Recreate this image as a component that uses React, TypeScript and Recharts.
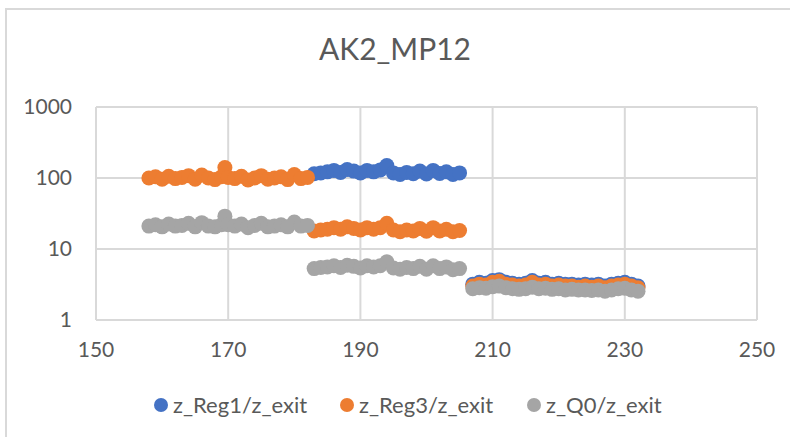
import { CartesianGrid, Scatter, ScatterChart, XAxis, YAxis } from 'recharts'

const xA = [158, 159, 160, 161, 162, 163, 164, 165, 166, 167, 168, 169, 169.5, 170, 171, 172, 173, 174, 175, 176, 177, 178, 179, 180, 181, 182]
const reg3A = [100, 104, 96, 106, 98, 102, 108, 96, 110, 100, 95, 104, 140, 102, 98, 106, 94, 100, 108, 96, 100, 104, 95, 112, 98, 102]
const q0A = [21, 22, 20.5, 22.5, 21, 21.5, 23, 20.5, 23.5, 21, 20.5, 22, 29, 22, 21, 22.5, 20, 21.5, 23, 20.5, 21, 22, 20.5, 24, 21, 21.5]

const xB = [183, 184, 185, 186, 187, 188, 189, 190, 191, 192, 193, 194, 195, 196, 197, 198, 199, 200, 201, 202, 203, 204, 205]
const reg1B = [115, 118, 122, 128, 120, 132, 125, 118, 128, 122, 130, 150, 118, 112, 120, 115, 125, 114, 128, 116, 122, 112, 118]
const reg3B = [18, 18.5, 19, 20, 19, 20.5, 19.5, 18.5, 20, 19, 20, 23, 18.5, 17.5, 18.5, 18, 19.5, 17.8, 20, 18, 19, 17.5, 18.2]
const q0B = [5.3, 5.5, 5.6, 5.8, 5.5, 5.9, 5.7, 5.4, 5.8, 5.6, 5.8, 6.6, 5.4, 5.2, 5.5, 5.3, 5.7, 5.2, 5.8, 5.3, 5.6, 5.1, 5.3]

const xC = [207, 208, 209, 210, 211, 212, 213, 214, 215, 216, 217, 218, 219, 220, 221, 222, 223, 224, 225, 226, 227, 228, 229, 230, 231, 232]
const reg1C = [3.2, 3.4, 3.3, 3.6, 3.7, 3.4, 3.3, 3.2, 3.3, 3.6, 3.3, 3.4, 3.2, 3.3, 3.2, 3.2, 3.1, 3.2, 3.1, 3.2, 3.0, 3.2, 3.3, 3.4, 3.2, 3.0]
const reg3C = [3.0, 3.2, 3.1, 3.4, 3.5, 3.2, 3.1, 3.0, 3.1, 3.4, 3.1, 3.2, 3.0, 3.1, 3.0, 3.0, 2.9, 3.0, 2.9, 3.0, 2.85, 3.0, 3.1, 3.2, 3.0, 2.85]
const q0C = [2.75, 2.85, 2.8, 2.95, 3.0, 2.85, 2.75, 2.7, 2.75, 2.9, 2.75, 2.8, 2.7, 2.75, 2.65, 2.7, 2.65, 2.65, 2.6, 2.65, 2.55, 2.65, 2.75, 2.8, 2.65, 2.55]

const xTicks = [150, 170, 190, 210, 230, 250]
const yTicks = [1, 10, 100, 1000]

const toPoints = (xs: number[], ys: number[]) => xs.map((x, i) => ({ x, y: ys[i] }))

const reg1 = [...toPoints(xB, reg1B), ...toPoints(xC, reg1C)]
const reg3 = [...toPoints(xA, reg3A), ...toPoints(xB, reg3B), ...toPoints(xC, reg3C)]
const q0 = [...toPoints(xA, q0A), ...toPoints(xB, q0B), ...toPoints(xC, q0C)]

const series = [
  { name: 'z_Reg1/z_exit', color: '#4472c4', data: reg1, legendX: 161 },
  { name: 'z_Reg3/z_exit', color: '#ed7d31', data: reg3, legendX: 347 },
  { name: 'z_Q0/z_exit', color: '#a5a5a5', data: q0, legendX: 534 },
]

const font = 'Lato, "Open Sans", sans-serif'
const tickStyle = { fill: '#595959', fontSize: 21, fontFamily: font }

const dot = (color: string) => (props: any) => (
  <circle cx={props.cx} cy={props.cy} r={7.5} fill={color} />
)

export default function App() {
  return (
    <div style={{ position: 'absolute', left: 0, top: 0, width: 790, height: 437, overflow: 'hidden', background: '#fff' }}>
      <div style={{ position: 'absolute', left: 5, top: 8, width: 820, height: 460, border: '2px solid #d9d9d9' }} />
      <div style={{ position: 'absolute', left: 0, top: 30, width: 790, textAlign: 'center', fontFamily: font, fontSize: 30, color: '#595959' }}>
        AK2_MP12
      </div>
      <div style={{ position: 'absolute', left: 0, top: 0 }}>
        <ScatterChart width={790} height={437} margin={{ top: 107, right: 33, bottom: 87, left: 36 }}>
          <CartesianGrid stroke="#d9d9d9" strokeWidth={2} horizontalValues={yTicks} verticalValues={xTicks} />
          <XAxis
            type="number"
            dataKey="x"
            domain={[150, 250]}
            ticks={xTicks}
            allowDataOverflow
            stroke="#d9d9d9"
            strokeWidth={2}
            tickLine={false}
            tick={tickStyle}
            tickMargin={16}
            height={30}
          />
          <YAxis
            type="number"
            dataKey="y"
            scale="log"
            domain={[1, 1000]}
            ticks={yTicks}
            allowDataOverflow
            stroke="#d9d9d9"
            strokeWidth={2}
            tickLine={false}
            tick={tickStyle}
            tickMargin={18}
            width={60}
          />
          {series.map((s) => (
            <Scatter key={s.name} name={s.name} data={s.data} fill={s.color} shape={dot(s.color)} isAnimationActive={false} />
          ))}
        </ScatterChart>
      </div>
      {series.map((s) => (
        <div key={s.name} style={{ position: 'absolute', left: s.legendX - 7, top: 391, display: 'flex', alignItems: 'center', fontFamily: font, fontSize: 22, color: '#595959' }}>
          <span style={{ display: 'inline-block', width: 14, height: 14, borderRadius: 7, background: s.color, marginRight: 5 }} />
          {s.name}
        </div>
      ))}
    </div>
  )
}
